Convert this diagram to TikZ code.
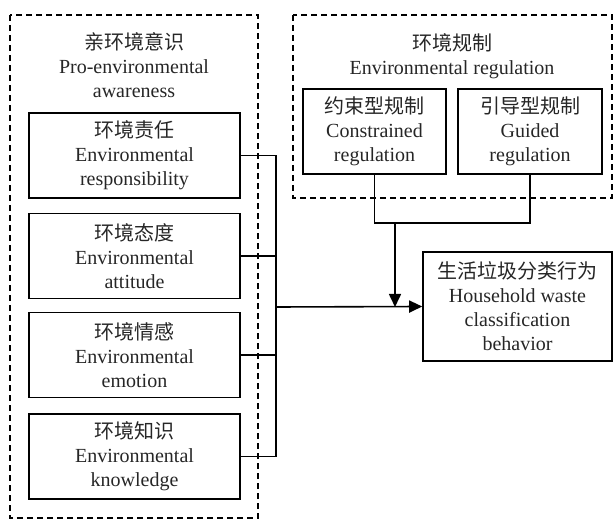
\documentclass[tikz,border=0pt]{standalone}
\usepackage{fontspec}
\setmainfont{Liberation Serif}
\newfontfamily\cjk{Noto Sans CJK SC}
\usetikzlibrary{arrows.meta}
\begin{document}
\begin{tikzpicture}[x=1pt,y=-1pt,
  txt/.style={align=center,text=black!85,font=\fontsize{20}{24}\selectfont,inner sep=0pt},
  box/.style={txt,draw=black,line width=1.6pt,minimum height=85pt},
  grp/.style={draw=black,line width=1.6pt,dash pattern=on 6pt off 4pt},
  wire/.style={draw=black,line width=1.6pt},
  arr/.style={wire,-{Triangle[length=13pt,width=12pt]}}]
\useasboundingbox (0,0) rectangle (613,521);
% group frames
\draw[grp] (10,15) rectangle (258,518);
\draw[grp] (293,15) rectangle (612,198);
\node[txt] (t1) at (134,65) {{\cjk 亲环境意识}\\Pro-environmental\\awareness};
\node[txt] (t2) at (452,56) {{\cjk 环境规制}\\Environmental regulation};
% left boxes
\node[box,minimum width=211pt] (b1) at (134.5,155.5) {{\cjk 环境责任}\\Environmental\\responsibility};
\node[box,minimum width=211pt] (b2) at (134.5,256) {{\cjk 环境态度}\\Environmental\\attitude};
\node[box,minimum width=211pt] (b3) at (134.5,355) {{\cjk 环境情感}\\Environmental\\emotion};
\node[box,minimum width=211pt] (b4) at (134.5,456.5) {{\cjk 环境知识}\\Environmental\\knowledge};
% regulation boxes
\node[box,minimum width=143pt] (c1) at (374.5,131.5) {{\cjk 约束型规制}\\Constrained\\regulation};
\node[box,minimum width=144pt] (c2) at (530,131.5) {{\cjk 引导型规制}\\Guided\\regulation};
% target
\node[box,minimum width=189pt,minimum height=109pt] (tg) at (517.5,306.5) {{\cjk 生活垃圾分类行为}\\Household waste\\classification\\behavior};
% connectors
\coordinate (bus) at (276,307);
\coordinate (join) at (395,223);
\draw[wire] (b1.east) -| (bus);
\draw[wire] (b4.east) -| (bus);
\draw[wire] (b2.east) -- (b2.east -| bus);
\draw[wire] (b3.east) -- (b3.east -| bus);
\draw[arr] (bus) -- (tg.west);
\draw[wire] (c1.south) |- (join) -| (c2.south);
\draw[arr] (join) -- (join |- bus);
\end{tikzpicture}
\end{document}
